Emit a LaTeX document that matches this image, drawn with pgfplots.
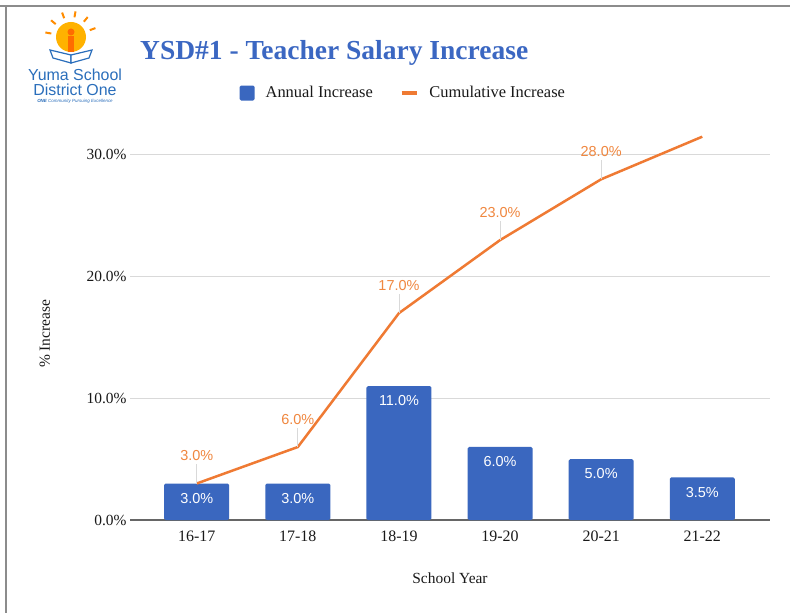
\documentclass[border=0pt]{standalone}
\usepackage{pgfplots}
\pgfplotsset{compat=1.18}
\usepackage{fontspec}
\setmainfont{Liberation Serif}
\newfontfamily\lsans{Liberation Sans}
\definecolor{barblue}{HTML}{3A67BF}
\definecolor{lineorange}{HTML}{EF7A33}
\definecolor{lblorange}{HTML}{F0873F}
\definecolor{titleblue}{HTML}{3B67C2}
\definecolor{logoblue}{HTML}{2A6EBB}
\begin{document}
\begin{tikzpicture}[x=1bp,y=1bp]
\useasboundingbox (0,0) rectangle (790,-613);
\fill[white] (0,0) rectangle (790,-613);
\draw[black!45, line width=1.2bp] (0,-6) -- (790,-6);
\draw[black!45, line width=1.2bp] (6,-6) -- (6,-613);
% logo
\foreach \a in {20,50,80,110,140,170} {\draw[orange!90!yellow, line width=2bp] (71,-37) ++(\a:20) -- ++(\a:6);}
\fill[orange!60!yellow] (71,-37) circle (15);
\fill[orange!85!red] (68,-52) rectangle (74,-36);
\fill[orange!85!red] (71,-32) circle (3.5);
\draw[logoblue, line width=1.2bp, fill=white] (50,-50) -- (71,-55) -- (71,-63) -- (53,-58) -- cycle;
\draw[logoblue, line width=1.2bp, fill=white] (92,-50) -- (71,-55) -- (71,-63) -- (89,-58) -- cycle;
\node[anchor=base, text=logoblue, font=\lsans\fontsize{16}{18}\selectfont, inner sep=0] at (75,-81) {Yuma School};
\node[anchor=base, text=logoblue, font=\lsans\fontsize{16}{18}\selectfont, inner sep=0] at (75,-96) {District One};
\node[anchor=base, text=logoblue, font=\lsans\itshape\fontsize{4.5}{5}\selectfont, inner sep=0] at (75,-103) {\textbf{ONE} Community Pursuing Excellence};
\node[anchor=base west, text=titleblue, font=\fontsize{27.6}{32}\selectfont\bfseries, inner sep=0] at (140,-60) {YSD\#1 - Teacher Salary Increase};
\begin{axis}[
  at={(130bp,-520bp)}, anchor=south west,
  scale only axis, width=640bp, height=389.4bp,
  xmin=-0.66, xmax=5.67, ymin=0, ymax=32,
  xtick={0,...,5}, xticklabels={16-17,17-18,18-19,19-20,20-21,21-22},
  ytick={10,20,30}, extra y ticks={0},
  extra y tick style={grid style={draw=black!60, line width=1.4bp}},
  ymajorgrids, grid style={draw=black!15, line width=0.9bp},
  axis line style={draw=none}, major tick length=0pt, tick style={draw=none},
  yticklabel={\pgfmathprintnumber[fixed,fixed zerofill,precision=1,assume math mode=true]{\tick}\%},
  yticklabel style={font=\fontsize{15.5}{17}\selectfont, text=black!90},
  xticklabel style={font=\fontsize{16}{18}\selectfont, text=black!90, yshift=-7bp},
  xlabel={School Year}, ylabel={\% Increase},
  xlabel style={at={(axis description cs:0.5,-0.149)}, anchor=center, font=\fontsize{15.5}{17}\selectfont, text=black!90},
  ylabel style={at={(axis description cs:-0.133,0.478)}, anchor=center, font=\fontsize{15.5}{17}\selectfont, text=black!90},
  legend columns=2,
  legend style={at={(0.427,1)}, anchor=center, yshift=37.6bp, draw=none, fill=none,
    font=\fontsize{16.5}{18}\selectfont, text=black!90,
    /tikz/every odd column/.append style={column sep=9bp},
    /tikz/every even column/.append style={column sep=25bp}},
]
\addplot[ybar, bar width=65bp, bar shift=0pt, fill=barblue, draw=none, rounded corners=1.5bp,
  point meta=y,
  nodes near coords={\pgfmathprintnumber[fixed,fixed zerofill,precision=1,assume math mode=true]{\pgfplotspointmeta}\%},
  nodes near coords align={anchor=north},
  every node near coord/.append style={text=white, font=\lsans\fontsize{14.5}{16}\selectfont, yshift=-6bp},
  legend image code/.code={\fill[barblue] (0bp,-7.5bp) rectangle (15bp,7.5bp);}]
  coordinates {(0,3) (1,3) (2,11) (3,6) (4,5) (5,3.5)};
\addlegendentry{Annual Increase}
\addplot[lineorange, line width=2.5bp, mark=none,
  legend image code/.code={\draw[lineorange, line width=3.5bp] (0bp,0bp) -- (15bp,0bp);}]
  coordinates {(0,3) (1,6) (2,17) (3,23) (4,28) (5,31.5)};
\addlegendentry{Cumulative Increase}
\addplot[draw=none, mark=none, forget plot, point meta=y,
  nodes near coords={\pgfmathprintnumber[fixed,fixed zerofill,precision=1,assume math mode=true]{\pgfplotspointmeta}\%},
  nodes near coords align={anchor=south},
  every node near coord/.append style={text=lblorange, font=\lsans\fontsize{14.5}{16}\selectfont, yshift=19bp},
  error bars/.cd, y dir=plus, y explicit, error mark=none,
  error bar style={draw=black!15, line width=0.8bp}]
  coordinates {(0,3) +- (0,1.6) (1,6) +- (0,1.6) (2,17) +- (0,1.6) (3,23) +- (0,1.6) (4,28) +- (0,1.6)};
\end{axis}
\end{tikzpicture}
\end{document}
